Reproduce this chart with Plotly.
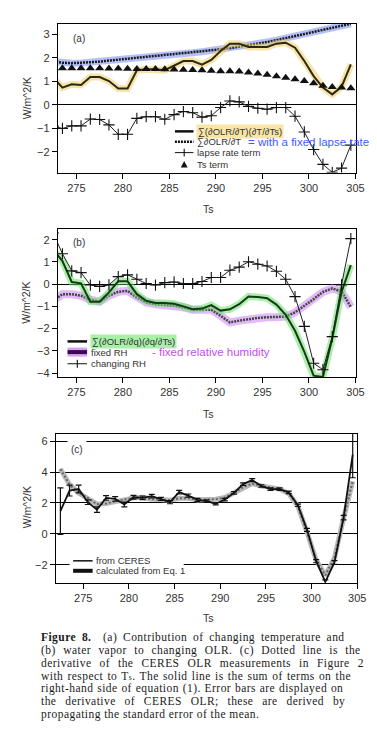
import plotly.graph_objects as go

W, H = 377, 754

# ---------------- data ----------------
ts = [272.5, 273.5, 274.5, 275.5, 276.5, 277.5, 278.5, 279.5, 280.5, 281.5, 282.5,
      283.5, 284.5, 285.5, 286.5, 287.5, 288.5, 289.5, 290.5, 291.5, 292.5, 293.5,
      294.5, 295.5, 296.5, 297.5, 298.5, 299.5, 300.5, 301.5, 302.5, 303.5, 304.5]
x_ticks = [275, 280, 285, 290, 295, 300, 305]

# (a)
a_total = [1.16, 0.74, 0.88, 0.85, 1.19, 1.19, 1.02, 0.70, 0.70, 1.48, 1.52, 1.52, 1.48,
           1.66, 1.87, 1.87, 1.72, 1.92, 2.30, 2.61, 2.61, 2.47, 2.47, 2.47, 2.61, 2.65,
           2.44, 1.87, 1.23, 0.74, 0.45, 0.77, 1.73]
a_fixed_lapse = [1.86, 1.80, 1.78, 1.79, 1.82, 1.85, 1.89, 1.93, 1.97, 2.00, 2.04, 2.08,
                 2.11, 2.14, 2.18, 2.22, 2.27, 2.32, 2.37, 2.42, 2.48, 2.54, 2.61, 2.68,
                 2.76, 2.84, 2.93, 3.02, 3.11, 3.20, 3.29, 3.38, 3.46]
a_lapse = [-0.9, -1.0, -0.89, -0.89, -0.6, -0.62, -0.85, -1.25, -1.25, -0.57, -0.5, -0.5,
           -0.61, -0.41, -0.28, -0.33, -0.52, -0.46, -0.11, 0.17, 0.13, -0.06, -0.14,
           -0.18, -0.11, -0.11, -0.48, -1.15, -1.9, -2.53, -2.87, -2.69, -1.71]
a_ts_term = [1.56, 1.56, 1.56, 1.56, 1.56, 1.56, 1.55, 1.55, 1.54, 1.53, 1.53, 1.53, 1.52,
             1.51, 1.50, 1.49, 1.48, 1.46, 1.44, 1.44, 1.42, 1.38, 1.34, 1.29, 1.22,
             1.16, 1.09, 1.02, 0.92, 0.82, 0.77, 0.74, 0.71]

# (b)
b_total = [1.56, 1.04, 0.10, 0.04, -0.79, -0.79, -0.37, 0.13, 0.13, -0.45, -0.75, -0.85,
           -0.85, -0.88, -1.00, -1.13, -1.10, -0.94, -1.19, -1.13, -0.90, -0.55, -0.58,
           -0.63, -0.92, -1.38, -2.10, -3.05, -4.12, -4.18, -2.45, -0.35, 0.86]
b_fixed_rh = [-0.75, -0.45, -0.45, -0.52, -0.70, -0.79, -0.52, -0.34, -0.30, -0.60, -0.82,
              -0.90, -0.94, -0.97, -1.04, -1.15, -1.15, -1.15, -1.42, -1.72, -1.64, -1.57,
              -1.52, -1.49, -1.49, -1.46, -1.27, -0.98, -0.67, -0.35, -0.19, -0.33, -1.02]
b_changing_rh = [2.31, 1.37, 0.60, 0.52, -0.04, -0.10, -0.03, 0.34, 0.42, 0.22, 0.03, -0.04,
                 0.07, 0.10, 0.03, 0.03, 0.12, 0.30, 0.30, 0.63, 0.77, 1.01, 0.90, 0.82,
                 0.58, 0.22, -0.56, -1.90, -3.56, -3.85, -2.36, -0.03, 2.05]

# (c)
c_ceres = [1.47, 2.8, 2.9, 2.05, 1.57, 2.33, 2.26, 1.9, 2.37, 2.33, 2.44, 2.26, 2.05, 2.70,
           2.48, 2.2, 2.12, 1.95, 2.22, 2.65, 3.22, 3.48, 3.1, 2.9, 2.9, 2.68, 1.85, 0.26,
           -1.77, -3.1, -1.85, 1.05, 5.13]
c_ceres_err = [1.5, 0.35, 0.25, 0.15, 0.18, 0.15, 0.15, 0.15, 0.12, 0.12, 0.12, 0.1, 0.1,
               0.12, 0.1, 0.1, 0.08, 0.08, 0.08, 0.08, 0.08, 0.1, 0.08, 0.08, 0.08, 0.08,
               0.08, 0.1, 0.1, 0.12, 0.12, 0.15, 1.5]
c_eq1 = [4.2, 3.2, 2.65, 2.33, 1.92, 1.96, 2.11, 2.24, 2.33, 2.37, 2.24, 2.22, 2.18, 2.3,
         2.3, 2.2, 2.2, 2.24, 2.35, 2.65, 3.02, 3.25, 3.1, 3.02, 2.9, 2.61, 1.79, 0.1,
         -1.7, -2.68, -1.55, 1.0, 3.4]

caption_lines = [
    "<b>Figure 8.</b>  (a) Contribution of changing temperature and",
    "(b) water vapor to changing OLR. (c) Dotted line is the",
    "derivative of the CERES OLR measurements in Figure 2",
    "with respect to T<span style='font-size:7.5px'>s</span>. The solid line is the sum of terms on the",
    "right-hand side of equation (1). Error bars are displayed on",
    "the derivative of CERES OLR; these are derived by",
    "propagating the standard error of the mean.",
]
caption_word_spacing = [2.5, 4.1, 4.7, 0.9, 0.5, 5.5, 0]


# ---------------- helpers ----------------
def X(px):
    return px / W


def Y(py):
    return 1 - py / H


SANS = "Liberation Sans, Arial, sans-serif"
fig = go.Figure()


def line(x, y, ax, color, width, dash="solid", **kw):
    fig.add_trace(go.Scatter(x=x, y=y, mode="lines", xaxis=ax[0], yaxis=ax[1],
                             line=dict(color=color, width=width, dash=dash),
                             hoverinfo="skip", **kw))


A = ("x", "y")
B = ("x2", "y2")
C = ("x3", "y3")

# panel (a)
line(ts, a_fixed_lapse, A, "rgba(120,140,240,0.55)", 7)
line(ts, a_fixed_lapse, A, "#1a1a1a", 2.5, "2px,1px")
line(ts, a_total, A, "rgba(240,205,100,0.55)", 7)
line(ts, a_total, A, "#2b2a12", 2)
fig.add_trace(go.Scatter(x=ts, y=a_lapse, mode="lines+markers", xaxis="x", yaxis="y",
                         line=dict(color="#222", width=1),
                         marker=dict(symbol="cross-thin", size=8,
                                     line=dict(color="#111", width=1.1)),
                         hoverinfo="skip"))
fig.add_trace(go.Scatter(x=ts, y=a_ts_term, mode="markers", xaxis="x", yaxis="y",
                         marker=dict(symbol="triangle-up", size=8, color="#111"),
                         hoverinfo="skip"))

# panel (b)
line(ts, b_fixed_rh, B, "rgba(200,130,240,0.55)", 8)
line(ts, b_fixed_rh, B, "#444", 2.5, "2px,1px")
line(ts, b_total, B, "rgba(100,225,100,0.55)", 7)
line(ts, b_total, B, "#163a16", 2)
fig.add_trace(go.Scatter(x=ts, y=b_changing_rh, mode="lines+markers", xaxis="x2", yaxis="y2",
                         line=dict(color="#222", width=1),
                         marker=dict(symbol="cross-thin", size=8,
                                     line=dict(color="#111", width=1.1)),
                         hoverinfo="skip"))

# panel (c)
line(ts, c_eq1, C, "#b8b8b8", 5)
line(ts, c_eq1, C, "#666", 2, "2px,2px")
fig.add_trace(go.Scatter(x=ts, y=c_ceres, mode="lines", xaxis="x3", yaxis="y3",
                         line=dict(color="#111", width=1.8),
                         error_y=dict(type="data", array=c_ceres_err, color="#111",
                                      thickness=1.2, width=3),
                         hoverinfo="skip"))

# ---------------- axes ----------------
tickfont = dict(family=SANS, size=11, color="#333")
base = dict(showline=True, linecolor="black", linewidth=1, mirror=True, ticks="outside",
            ticklen=5, tickcolor="black", tickwidth=1, showgrid=False, zeroline=False,
            tickfont=tickfont)

dom_ab_x = [X(51), X(356)]
dom_c_x = [X(49), X(358)]

fig.update_layout(
    width=W, height=H, margin=dict(l=0, r=0, t=0, b=0),
    paper_bgcolor="white", plot_bgcolor="white", showlegend=False,
    xaxis=dict(base, domain=dom_ab_x, range=[273, 305], tickvals=x_ticks, anchor="y"),
    yaxis=dict(base, domain=[Y(165), Y(16)], range=[-2.88, 3.45],
               tickvals=[-2, -1, 0, 1, 2, 3], zeroline=True, zerolinecolor="black",
               zerolinewidth=1, anchor="x"),
    xaxis2=dict(base, domain=dom_ab_x, range=[273, 305], tickvals=x_ticks, anchor="y2"),
    yaxis2=dict(base, domain=[Y(370), Y(221.7)], range=[-4.18, 2.48],
                tickvals=[-4, -3, -2, -1, 0, 1, 2], zeroline=True, zerolinecolor="black",
                zerolinewidth=1, anchor="x2"),
    xaxis3=dict(base, domain=dom_c_x, range=[272.0, 305.02], tickvals=x_ticks, anchor="y3"),
    yaxis3=dict(base, domain=[Y(576.7), Y(426.7)], range=[-3.19, 6.49],
                tickvals=[-2, 0, 2, 4, 6], showgrid=True, gridcolor="black", gridwidth=1,
                zeroline=True, zerolinecolor="black", zerolinewidth=1, anchor="x3"),
)

# ---------------- annotations & legend drawing ----------------
anns = []
shapes = []


def text(px, py, s, size=9.5, color="#333", family=SANS, xanchor="left", bg=None,
         angle=0, pad=0):
    d = dict(x=X(px), y=Y(py), xref="paper", yref="paper", text=s, showarrow=False,
             xanchor=xanchor, yanchor="middle", textangle=angle,
             font=dict(family=family, size=size, color=color), borderpad=pad)
    if bg:
        d["bgcolor"] = bg
    anns.append(d)


def seg(x0, y0, x1, y1, color="#111", width=1, dash="solid"):
    shapes.append(dict(type="line", xref="paper", yref="paper", x0=X(x0), y0=Y(y0),
                       x1=X(x1), y1=Y(y1), line=dict(color=color, width=width, dash=dash)))


# axis titles
for yc in (91, 296, 501):
    text(19, yc, "W/m^2/K", size=10.5, color="#333", xanchor="center", angle=-90)
for yc in (202, 407, 612):
    text(205, yc, "Ts", size=10.5, color="#333", xanchor="center")

# panel labels
text(73, 31, "(a)", size=10, xanchor="center")
text(73, 235, "(b)", size=10, xanchor="center")
text(71, 442.5, "(c)", size=10, xanchor="center", bg="white", pad=3)

# legend (a)
seg(171, 123.7, 190, 123.7, "#111", 2.5)
text(193, 123.7, "∑(∂OLR/∂T)(∂T/∂Ts)", bg="#f9e6a6", pad=1)
seg(171, 134, 190, 134, "#111", 2.5, "2px,1px")
text(193, 134, "∑∂OLR/∂T")
text(245, 134, "= with a fixed lapse rate", size=11.5, color="#3d5bff")
seg(171, 145, 190, 145, "#111", 1)
seg(180.5, 141, 180.5, 149, "#111", 1.1)
text(193, 145, "lapse rate term")
shapes.append(dict(type="path", xref="paper", yref="paper",
                   path=f"M {X(177)},{Y(160)} L {X(184)},{Y(160)} L {X(180.5)},{Y(153.5)} Z",
                   fillcolor="#111", line=dict(width=0)))
text(193, 157, "Ts term")

# legend (b)
seg(61, 334.3, 81, 334.3, "#111", 2.5)
text(84, 334.3, "∑(∂OLR/∂q)(∂q/∂Ts)", bg="#a8f0a8", pad=1)
seg(61, 345, 81, 345, "#d8a0f0", 9)
seg(61, 345, 81, 345, "#3c0a50", 4)
text(84, 345, "fixed RH")
text(146, 345, "- fixed relative humidity", size=11.5, color="#c050f0")
seg(61, 356.7, 81, 356.7, "#111", 1)
seg(71, 352.7, 71, 360.7, "#111", 1.1)
text(84, 356.7, "changing RH")

# legend (c)
shapes.append(dict(type="rect", xref="paper", yref="paper", x0=X(63), x1=X(180),
                   y0=Y(570), y1=Y(549), fillcolor="white", line=dict(width=0)))
seg(66.7, 554.3, 86.7, 554.3, "#111", 1.5)
text(89.3, 554.3, "from CERES")
seg(66.7, 564.3, 86.7, 564.3, "#111", 4)
text(89.3, 564.3, "calculated from Eq. 1")

# caption (justified via word spacing)
for i, s in enumerate(caption_lines):
    ws = caption_word_spacing[i]
    txt = f"<span style='letter-spacing:0.45px;word-spacing:{ws}px'>{s}</span>"
    text(33, 631.6 + i * 12.8, txt, size=11.5, color="#1a1a1a",
         family="Liberation Serif, Times New Roman, serif")

fig.update_layout(annotations=anns, shapes=shapes)
fig.write_html("out.html")
